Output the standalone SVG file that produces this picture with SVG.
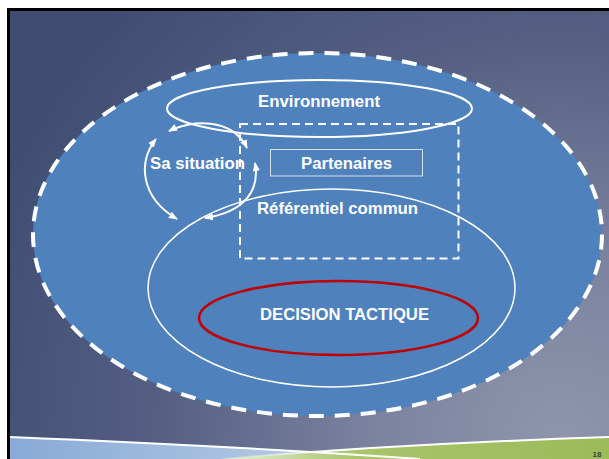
<svg xmlns="http://www.w3.org/2000/svg" width="609" height="459" viewBox="0 0 609 459">
  <defs>
    <radialGradient id="bg" cx="560" cy="440" r="620" gradientUnits="userSpaceOnUse">
      <stop offset="0" stop-color="#8e95ad"/>
      <stop offset="0.3" stop-color="#7c839f"/>
      <stop offset="0.65" stop-color="#545f82"/>
      <stop offset="1" stop-color="#3f4d72"/>
    </radialGradient>
    <linearGradient id="blueSwoosh" x1="0" y1="0" x2="1" y2="0">
      <stop offset="0" stop-color="#88aad6"/>
      <stop offset="0.7" stop-color="#b3c8e4"/>
      <stop offset="1" stop-color="#e6eef7"/>
    </linearGradient>
    <linearGradient id="greenSwoosh" x1="220" y1="0" x2="609" y2="0" gradientUnits="userSpaceOnUse">
      <stop offset="0" stop-color="#e8f0d8"/>
      <stop offset="0.35" stop-color="#a9c46c"/>
      <stop offset="1" stop-color="#9bbb59"/>
    </linearGradient>
    <linearGradient id="greenEdge" x1="220" y1="0" x2="609" y2="0" gradientUnits="userSpaceOnUse">
      <stop offset="0" stop-color="#ffffff" stop-opacity="0"/>
      <stop offset="0.3" stop-color="#ffffff" stop-opacity="1"/>
      <stop offset="1" stop-color="#ffffff" stop-opacity="1"/>
    </linearGradient>
    <marker id="ah" viewBox="0 0 10 8" refX="9" refY="4" markerWidth="9" markerHeight="8" markerUnits="userSpaceOnUse" orient="auto-start-reverse">
      <path d="M0,0 L10,4 L0,8 Z" fill="#ffffff"/>
    </marker>
    <style>
      .lbl { font-family: "Liberation Sans", Arial, sans-serif; font-weight: bold; font-size: 16px; fill: #ffffff; }
      .arc { fill: none; stroke: #ffffff; stroke-width: 2; marker-start: url(#ah); marker-end: url(#ah); }
    </style>
  </defs>

  <!-- slide frame and background -->
  <rect x="0" y="0" width="609" height="459" fill="#ffffff"/>
  <rect x="7" y="8" width="602" height="451" fill="#000000"/>
  <rect x="10" y="11" width="599" height="448" fill="url(#bg)"/>
  <path d="M10,437 Q250,447 420,459 L10,459 Z" fill="url(#blueSwoosh)"/>
  <path d="M609,437 Q400,444 220,459 L609,459 Z" fill="url(#greenSwoosh)"/>
  <path d="M10,437 Q250,447 420,459" fill="none" stroke="#ffffff" stroke-width="2"/>
  <path d="M609,437 Q400,444 220,459" fill="none" stroke="url(#greenEdge)" stroke-width="2"/>
  <text x="597" y="457" text-anchor="middle" font-family="Liberation Sans, Arial, sans-serif" font-weight="bold" font-size="8" fill="#3f3f3f">18</text>

  <!-- outer dashed ellipse -->
  <g id="contexte">
    <ellipse cx="317.5" cy="234.5" rx="284.5" ry="181.5" fill="#4f81bd" stroke="#ffffff" stroke-width="4" stroke-dasharray="15 11"/>
  </g>

  <g id="environnement">
    <ellipse cx="319.5" cy="108.5" rx="152.5" ry="28.5" fill="none" stroke="#ffffff" stroke-width="2"/>
    <text class="lbl" x="258" y="107" textLength="122" lengthAdjust="spacingAndGlyphs">Environnement</text>
  </g>

  <g id="referentiel">
    <ellipse cx="331.5" cy="288" rx="183.5" ry="99" fill="none" stroke="#ffffff" stroke-width="1.5"/>
    <text class="lbl" x="257" y="214" textLength="161" lengthAdjust="spacingAndGlyphs">Référentiel commun</text>
  </g>

  <g id="zone-partenaires">
    <rect x="240" y="124" width="218.5" height="134.5" fill="none" stroke="#ffffff" stroke-width="2" stroke-dasharray="8 5"/>
  </g>

  <g id="partenaires">
    <rect x="270.5" y="149.5" width="152" height="26.5" fill="none" stroke="#d6e0ee" stroke-width="1"/>
    <text class="lbl" x="301" y="169" textLength="91" lengthAdjust="spacingAndGlyphs">Partenaires</text>
  </g>

  <g id="sa-situation">
    <text class="lbl" x="150" y="169" textLength="95" lengthAdjust="spacingAndGlyphs">Sa situation</text>
  </g>

  <g id="decision">
    <ellipse cx="338.5" cy="318" rx="139.5" ry="37" fill="none" stroke="#c00000" stroke-width="2.5"/>
    <text class="lbl" x="260" y="319.5" textLength="169" lengthAdjust="spacingAndGlyphs" font-size="17">DECISION TACTIQUE</text>
  </g>

  <g id="connecteurs">
    <path class="arc" d="M169,131 C190,120 232,117 247,148"/>
    <path class="arc" d="M156,139 C138,162 140,197 177,219"/>
    <path class="arc" d="M255,163 C260,190 245,212 205,218"/>
  </g>
</svg>
